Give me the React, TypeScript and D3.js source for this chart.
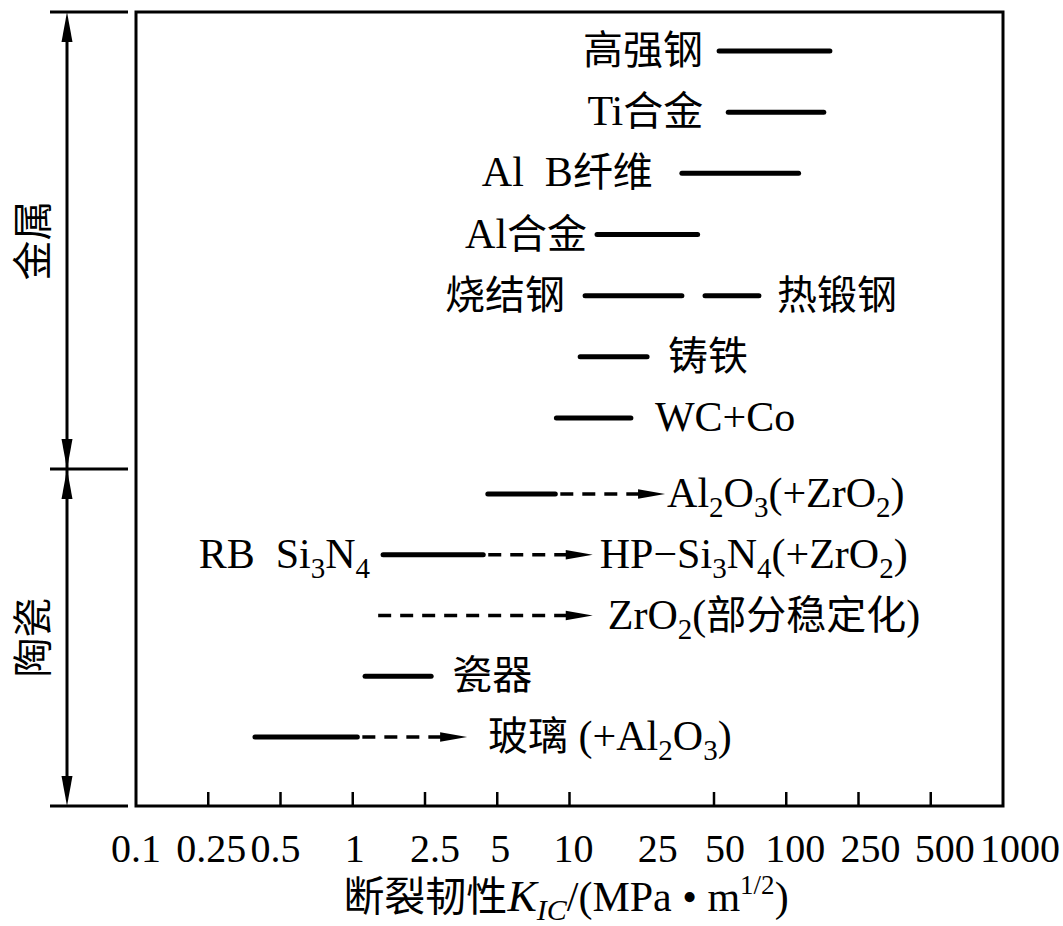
import React from "react";
import * as d3 from "d3";

// ---------------- DATA ----------------
const metals = ["高强钢", "Ti合金", "Al B纤维", "Al合金", "烧结钢", "铸铁", "WC+Co"];
const ceramics = ["Al2O3", "HP-Si3N4", "ZrO2", "瓷器", "玻璃"];
const rows = [...metals, ...ceramics];

// fracture toughness K_IC (MPa·m^1/2), solid ranges per row
const solidLow: (number | null)[] = [49, 54, 33, 13.4, 11.8, 11.2, 8.7, 4.2, 1.38, null, 1.14, 0.354];
const solidHigh: (number | null)[] = [159, 149, 114, 39, 33, 22.8, 19.2, 8.6, 4.0, null, 2.3, 1.05];
// dashed (improved / toughened) extension ending in an arrow
const dashedLow: (number | null)[] = [null, null, null, null, null, null, null, 8.6, 4.0, 1.31, null, 1.05];
const arrowTip: (number | null)[] = [null, null, null, null, null, null, null, 27.6, 12.8, 12.8, null, 3.37];
// second solid segment on the same row (热锻钢)
const extraRow = ["烧结钢"];
const extraLow = [42.2];
const extraHigh = [74.8];
const extraLabels = ["热锻钢"];

// labels ("_x" = subscript)
const leftLabels: (string | null)[] = ["高强钢", "Ti合金", "Al  B纤维", "Al合金", "烧结钢", null, null, null, "RB  Si_3N_4", null, null, null];
const rightLabels: (string | null)[] = [null, null, null, null, null, "铸铁", "WC+Co", "Al_2O_3(+ZrO_2)", "HP−Si_3N_4(+ZrO_2)", "ZrO_2(部分稳定化)", "瓷器", "玻璃 (+Al_2O_3)"];

const tickLabels = ["0.1", "0.25", "0.5", "1", "2.5", "5", "10", "25", "50", "100", "250", "500", "1000"];
const tickMarkHidden = ["0.1", "25", "1000"];

const groupNames = ["金属", "陶瓷"];

// ---------------- LAYOUT ----------------
const W = 1063, H = 926;
const L = 136, R = 1003, T = 12, B = 806;
const FONT = '"Liberation Serif", "Times New Roman", "Noto Sans CJK SC", serif';
const FS = 40;
const FS_LAT = 42;
const FS_SUB = 29;
const leftGap = [16, 25, 29, 10, 20, 0, 0, 0, 13, 0, 0, 0];
const rightGap = [0, 0, 0, 0, 0, 21, 24, 2, 7, 15, 21, 21];
const extraGap = [18];
const tickLabelDx = [0, 3, -5, 2, 10, 3, 4, 16, 11, 9, 12, 14, 17];
const groupSplit = 469;
const bracketX = 67;

const isCJK = (c: string) => /[\u3000-\u9fff\uff00-\uffef]/.test(c);

function Rich({ s, x, y, anchor }: { s: string; x: number; y: number; anchor: string }) {
  type Part = { t: string; kind: "sub" | "cjk" | "lat" };
  const parts: Part[] = [];
  for (let i = 0; i < s.length; i++) {
    let kind: Part["kind"];
    let ch = s[i];
    if (ch === "_") {
      ch = s[i + 1];
      i++;
      kind = "sub";
    } else kind = isCJK(ch) ? "cjk" : "lat";
    const last = parts[parts.length - 1];
    if (last && last.kind === kind && kind !== "sub") last.t += ch;
    else parts.push({ t: ch, kind });
  }
  const shift = 10;
  let cur = false;
  return (
    <text x={x} y={y} textAnchor={anchor} fontFamily={FONT} fontSize={FS} style={{ whiteSpace: "pre" }}>
      {parts.map((p, i) => {
        const sub = p.kind === "sub";
        let dy = 0;
        if (sub && !cur) dy = shift;
        if (!sub && cur) dy = -shift;
        cur = sub;
        return (
          <tspan key={i} dy={dy} fontSize={sub ? FS_SUB : p.kind === "cjk" ? FS : FS_LAT}>
            {p.t}
          </tspan>
        );
      })}
    </text>
  );
}

export default function App() {
  const x = d3.scaleLog().domain([0.1, 1000]).range([L, R]);
  const yMetal = d3.scalePoint<string>().domain(metals).range([51, 418]);
  const yCer = d3.scalePoint<string>().domain(ceramics).range([494, 737]);
  const y = (name: string) => (metals.includes(name) ? (yMetal(name) as number) : (yCer(name) as number));
  const tickPos = (i: number) => x(Math.pow(10, -1 + i / 3));
  const headLen = 27, headHalf = 4.8;
  const tb = 13; // text baseline offset

  const arrowHead = (tipX: number, tipY: number, dir: number, len: number, half: number) =>
    `M${tipX},${tipY} L${tipX - dir * len},${tipY - half} L${tipX - dir * len},${tipY + half} Z`;
  const vHead = (tipX: number, tipY: number, dir: number) =>
    `M${tipX},${tipY} L${tipX - 5.5},${tipY - dir * 30} L${tipX + 5.5},${tipY - dir * 30} Z`;

  return (
    <svg width={W} height={H} style={{ position: "absolute", left: 0, top: 0, background: "#fff" }}>
      <rect x={0} y={0} width={W} height={H} fill="#fff" />
      {/* frame */}
      <rect x={L} y={T} width={R - L} height={B - T} fill="none" stroke="#000" strokeWidth={3} />
      {/* ticks */}
      {tickLabels.map((lab, i) => (
        <g key={lab}>
          {!tickMarkHidden.includes(lab) && (
            <line x1={tickPos(i)} x2={tickPos(i)} y1={B} y2={B - 14} stroke="#000" strokeWidth={2.5} />
          )}
          <text x={tickPos(i) + tickLabelDx[i]} y={862} textAnchor="middle" fontFamily={FONT} fontSize={FS}>
            {lab}
          </text>
        </g>
      ))}
      {/* axis title */}
      <text x={566} y={911} textAnchor="middle" fontFamily={FONT} fontSize={42}>
        <tspan fontSize={41}>断裂韧性</tspan>
        <tspan fontStyle="italic" fontSize={44}>K</tspan>
        <tspan fontStyle="italic" fontSize={30} dy={9}>IC</tspan>
        <tspan dy={-9} style={{ whiteSpace: "pre" }}>/(MPa • m</tspan>
        <tspan fontSize={27} dy={-17}>1/2</tspan>
        <tspan dy={17}>)</tspan>
      </text>

      {/* group brackets */}
      {[T, groupSplit, B].map((yy, i) => (
        <line key={i} x1={50} x2={128} y1={yy} y2={yy} stroke="#000" strokeWidth={3} />
      ))}
      <line x1={bracketX} x2={bracketX} y1={T + 20} y2={B - 20} stroke="#000" strokeWidth={3} />
      <path d={vHead(bracketX, T, -1)} fill="#000" />
      <path d={vHead(bracketX, groupSplit, 1)} fill="#000" />
      <path d={vHead(bracketX, groupSplit, -1)} fill="#000" />
      <path d={vHead(bracketX, B, 1)} fill="#000" />
      {groupNames.map((g, i) => {
        const cy = i === 0 ? (T + groupSplit) / 2 : (groupSplit + B) / 2;
        return (
          <text key={g} transform={`translate(47,${cy}) rotate(-90)`} textAnchor="middle" fontFamily={FONT} fontSize={FS}>
            {g}
          </text>
        );
      })}

      {/* rows */}
      {rows.map((r, i) => {
        const yy = y(r);
        const lo = solidLow[i], hi = solidHigh[i], dl = dashedLow[i], tip = arrowTip[i];
        const startX = lo != null ? x(lo) : dl != null ? x(dl) : 0;
        const endX = tip != null ? x(tip) : hi != null ? x(hi) : 0;
        return (
          <g key={r}>
            {dl != null && tip != null && (
              <>
                <line
                  x1={x(dl)}
                  x2={x(tip) - headLen + 1}
                  y1={yy}
                  y2={yy}
                  stroke="#000"
                  strokeWidth={3.4}
                  strokeDasharray="13 9"
                  strokeDashoffset={lo != null ? 17 : 0}
                />
                <path d={arrowHead(x(tip), yy, 1, headLen, headHalf)} fill="#000" />
              </>
            )}
            {lo != null && hi != null && (
              <line x1={x(lo)} x2={x(hi)} y1={yy} y2={yy} stroke="#000" strokeWidth={5} strokeLinecap="round" />
            )}
            {leftLabels[i] && <Rich s={leftLabels[i] as string} x={startX - leftGap[i]} y={yy + tb} anchor="end" />}
            {rightLabels[i] && <Rich s={rightLabels[i] as string} x={endX + rightGap[i]} y={yy + tb} anchor="start" />}
          </g>
        );
      })}
      {extraRow.map((r, i) => (
        <g key={"extra" + i}>
          <line x1={x(extraLow[i])} x2={x(extraHigh[i])} y1={y(r)} y2={y(r)} stroke="#000" strokeWidth={5} strokeLinecap="round" />
          <Rich s={extraLabels[i]} x={x(extraHigh[i]) + extraGap[i]} y={y(r) + tb} anchor="start" />
        </g>
      ))}
    </svg>
  );
}
